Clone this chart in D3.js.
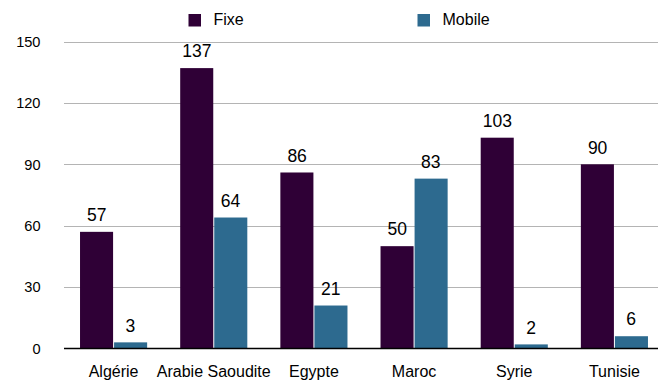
<!DOCTYPE html>
<html><head><meta charset="utf-8">
<script src="https://cdn.jsdelivr.net/npm/d3@7"></script>
<style>body{margin:0;background:#fff}svg{display:block;font-family:"Liberation Sans",Arial,Helvetica,sans-serif}</style>
</head><body><svg id="c" width="658" height="380"></svg>
<script>
const categories = ["Algérie","Arabie Saoudite","Egypte","Maroc","Syrie","Tunisie"];
const seriesNames = ["Fixe","Mobile"];
const fixe = [57,137,86,50,103,90];
const mobile = [3,64,21,83,2,6];
const yTicks = [0,30,60,90,120,150];
const colors = ["#2f0036","#2d6a8f"];

const svg = d3.select("#c");
const y = d3.scaleLinear().domain([0,150]).range([348.5,41.5]);
const x0 = d3.scaleBand().domain(categories).range([63.5,664.5]).paddingInner(0.33).paddingOuter(0.165);
const x1 = d3.scaleBand().domain(seriesNames).range([0,x0.bandwidth()]);

// gridlines
svg.append("g").selectAll("line").data(yTicks.filter(d=>d>0)).join("line")
  .attr("x1",64).attr("x2",658).attr("y1",d=>Math.round(y(d))+0.5).attr("y2",d=>Math.round(y(d))+0.5)
  .attr("stroke","#b4b4b4").attr("stroke-width",1);

// y labels
svg.append("g").selectAll("text").data(yTicks).join("text")
  .attr("x",40.5).attr("y",d=>y(d)+5.2).attr("text-anchor","end")
  .attr("font-size",14.6).attr("fill","#000").text(d=>d);

const data = categories.map((c,i)=>({c, vals:[fixe[i],mobile[i]]}));
const g = svg.append("g").selectAll("g").data(data).join("g")
  .attr("transform",d=>`translate(${x0(d.c)},0)`);
g.selectAll("rect").data(d=>d.vals.map((v,j)=>({k:seriesNames[j],v,j}))).join("rect")
  .attr("x",d=>x1(d.k)+(d.j?0.5:0)).attr("width",x1.bandwidth()-0.5)
  .attr("y",d=>y(d.v)).attr("height",d=>y(0)-y(d.v)).attr("fill",d=>colors[d.j]);
g.selectAll("text").data(d=>d.vals.map((v,j)=>({k:seriesNames[j],v,j}))).join("text")
  .attr("x",d=>x1(d.k)+x1.bandwidth()/2).attr("y",d=>y(d.v)-10.8)
  .attr("text-anchor","middle").attr("font-size",17.5).attr("fill","#000").text(d=>d.v);

// baseline
svg.append("line").attr("x1",64).attr("x2",658).attr("y1",y(0)).attr("y2",y(0))
  .attr("stroke","#000").attr("stroke-width",1.5);

// x labels
svg.append("g").selectAll("text").data(categories).join("text")
  .attr("x",d=>x0(d)+x0.bandwidth()/2).attr("y",377.3).attr("text-anchor","middle")
  .attr("font-size",16).attr("fill","#000").text(d=>d);

// legend
const legX = [188.5,417.5];
const leg = svg.append("g").selectAll("g").data(seriesNames).join("g")
  .attr("transform",(d,i)=>`translate(${legX[i]},14)`);
leg.append("rect").attr("width",12.5).attr("height",12.5).attr("fill",(d,i)=>colors[i]);
leg.append("text").attr("x",25).attr("y",11.2).attr("font-size",16).attr("fill","#000").text(d=>d);
</script></body></html>
